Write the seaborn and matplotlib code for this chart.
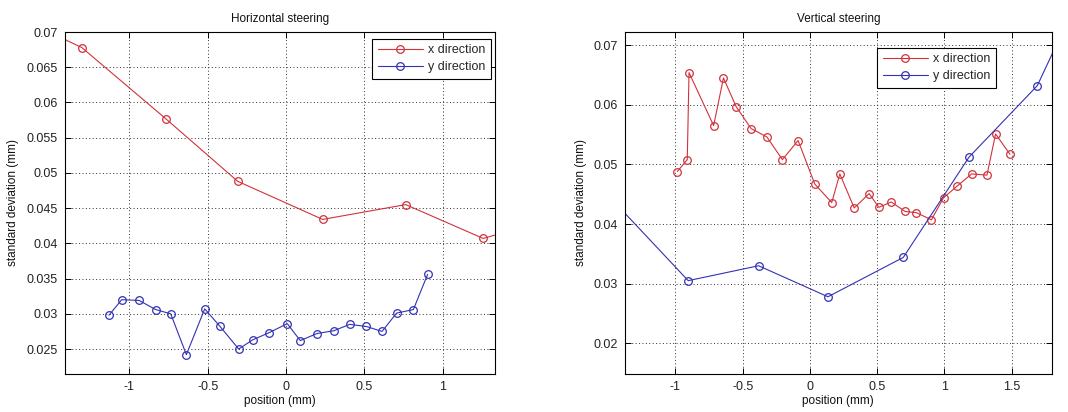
import numpy as np
import pandas as pd
import matplotlib
matplotlib.use("Agg")
import matplotlib.pyplot as plt
import seaborn as sns
from matplotlib.ticker import FixedLocator, FuncFormatter

# ---------------- data ----------------
# Horizontal steering
h_x_pos = [-1.80, -1.304, -0.768, -0.308, 0.234, 0.764, 1.259, 1.75]
h_x_std = [0.0730, 0.0678, 0.0577, 0.0488, 0.0434, 0.0455, 0.0407, 0.0438]

h_y_pos = [-1.130, -1.049, -0.938, -0.832, -0.736, -0.636, -0.519, -0.421, -0.302,
           -0.213, -0.110, 0.008, 0.091, 0.198, 0.306, 0.406, 0.513, 0.613, 0.706,
           0.813, 0.904]
h_y_std = [0.0298, 0.0320, 0.0319, 0.0306, 0.0300, 0.0242, 0.0307, 0.0282, 0.0250,
           0.0263, 0.0273, 0.0286, 0.0262, 0.0272, 0.0276, 0.0285, 0.0282, 0.0275, 0.0301,
           0.0306, 0.0356]

# Vertical steering
v_x_pos = [-0.986, -0.912, -0.899, -0.716, -0.643, -0.549, -0.437, -0.320, -0.205,
           -0.088, 0.036, 0.162, 0.222, 0.329, 0.440, 0.512, 0.604, 0.708, 0.792,
           0.903, 0.993, 1.091, 1.202, 1.316, 1.380, 1.487]
v_x_std = [0.0488, 0.0508, 0.0654, 0.0565, 0.0645, 0.0597, 0.0560, 0.0546, 0.0508,
           0.0540, 0.0467, 0.0436, 0.0484, 0.0427, 0.0451, 0.0428, 0.0437, 0.0421, 0.0419,
           0.0407, 0.0444, 0.0463, 0.0484, 0.0482, 0.0551, 0.0517]

v_y_pos = [-1.90, -0.905, -0.382, 0.134, 0.694, 1.182, 1.690, 2.20]
v_y_std = [0.0544, 0.0305, 0.0330, 0.0278, 0.0344, 0.0512, 0.0632, 0.0877]

series_labels = ["x direction", "y direction"]
titles = ["Horizontal steering", "Vertical steering"]
xlabel = "position (mm)"
ylabel = "standard deviation (mm)"

h_xticks = [-1, -0.5, 0, 0.5, 1]
h_yticks = [0.025, 0.03, 0.035, 0.04, 0.045, 0.05, 0.055, 0.06, 0.065, 0.07]
v_xticks = [-1, -0.5, 0, 0.5, 1, 1.5]
v_yticks = [0.02, 0.03, 0.04, 0.05, 0.06, 0.07]

# ---------------- style ----------------
sns.set_theme(style="white")
plt.rcParams["font.family"] = ["Liberation Sans", "DejaVu Sans"]
plt.rcParams["font.size"] = 8

RED = "#d2323c"
BLUE = "#3232b4"

fig = plt.figure(figsize=(10.68, 4.12), dpi=100)
fig.patch.set_facecolor("white")
ax1 = fig.add_axes([0.0604, 0.0930, 0.4639 - 0.0604, 0.9223 - 0.0930])
ax2 = fig.add_axes([0.5852, 0.0930, 0.9847 - 0.5852, 0.9223 - 0.0930])

fmt = FuncFormatter(lambda v, p: ("%g" % round(v, 6)))


def draw(ax, xs, ys, title, xticks, yticks, xlim, ylim, leg_anchor):
    for (px, py), col, lab in zip(zip(xs, ys), [RED, BLUE], series_labels):
        df = pd.DataFrame({"pos": px, "std": py})
        sns.lineplot(data=df, x="pos", y="std", ax=ax, sort=False, estimator=None,
                     color=col, linewidth=0.8, marker="o", markersize=5.5,
                     markerfacecolor="none", markeredgecolor=col,
                     markeredgewidth=0.9, label=lab)
    ax.set_xlim(*xlim)
    ax.set_ylim(*ylim)
    ax.xaxis.set_major_locator(FixedLocator(xticks))
    ax.yaxis.set_major_locator(FixedLocator(yticks))
    ax.xaxis.set_major_formatter(fmt)
    ax.yaxis.set_major_formatter(fmt)
    ax.grid(True, color="#303030", linestyle=(0, (1, 2.5)), linewidth=0.7)
    for s in ax.spines.values():
        s.set_color("black")
        s.set_linewidth(0.8)
    ax.tick_params(direction="in", length=4, width=0.7, top=True, right=True,
                   bottom=True, left=True, labelsize=9, colors="black",
                   labelcolor="#222222", pad=5)
    ax.set_title(title, fontsize=8.5, pad=7, color="#111111")
    ax.set_xlabel(xlabel, fontsize=8.5, labelpad=2, color="#111111")
    ax.set_ylabel(ylabel, fontsize=8.5, labelpad=5, color="#111111")
    leg = ax.legend(loc="upper right", bbox_to_anchor=leg_anchor, borderaxespad=0,
                    fontsize=9, frameon=True, fancybox=False, handlelength=3.6,
                    handletextpad=0.4, borderpad=0.45, labelspacing=0.4)
    leg.get_frame().set_edgecolor("black")
    leg.get_frame().set_linewidth(0.8)
    leg.get_frame().set_alpha(1)


draw(ax1, [h_x_pos, h_y_pos], [h_x_std, h_y_std], titles[0], h_xticks, h_yticks,
     (-1.414, 1.337), (0.0215, 0.0700), (0.9896, 0.980))
draw(ax2, [v_x_pos, v_y_pos], [v_x_std, v_y_std], titles[1], v_xticks, v_yticks,
     (-1.375, 1.797), (0.0149, 0.0722), (0.8688, 0.954))

fig.savefig("out.png", dpi=100, facecolor="white")
